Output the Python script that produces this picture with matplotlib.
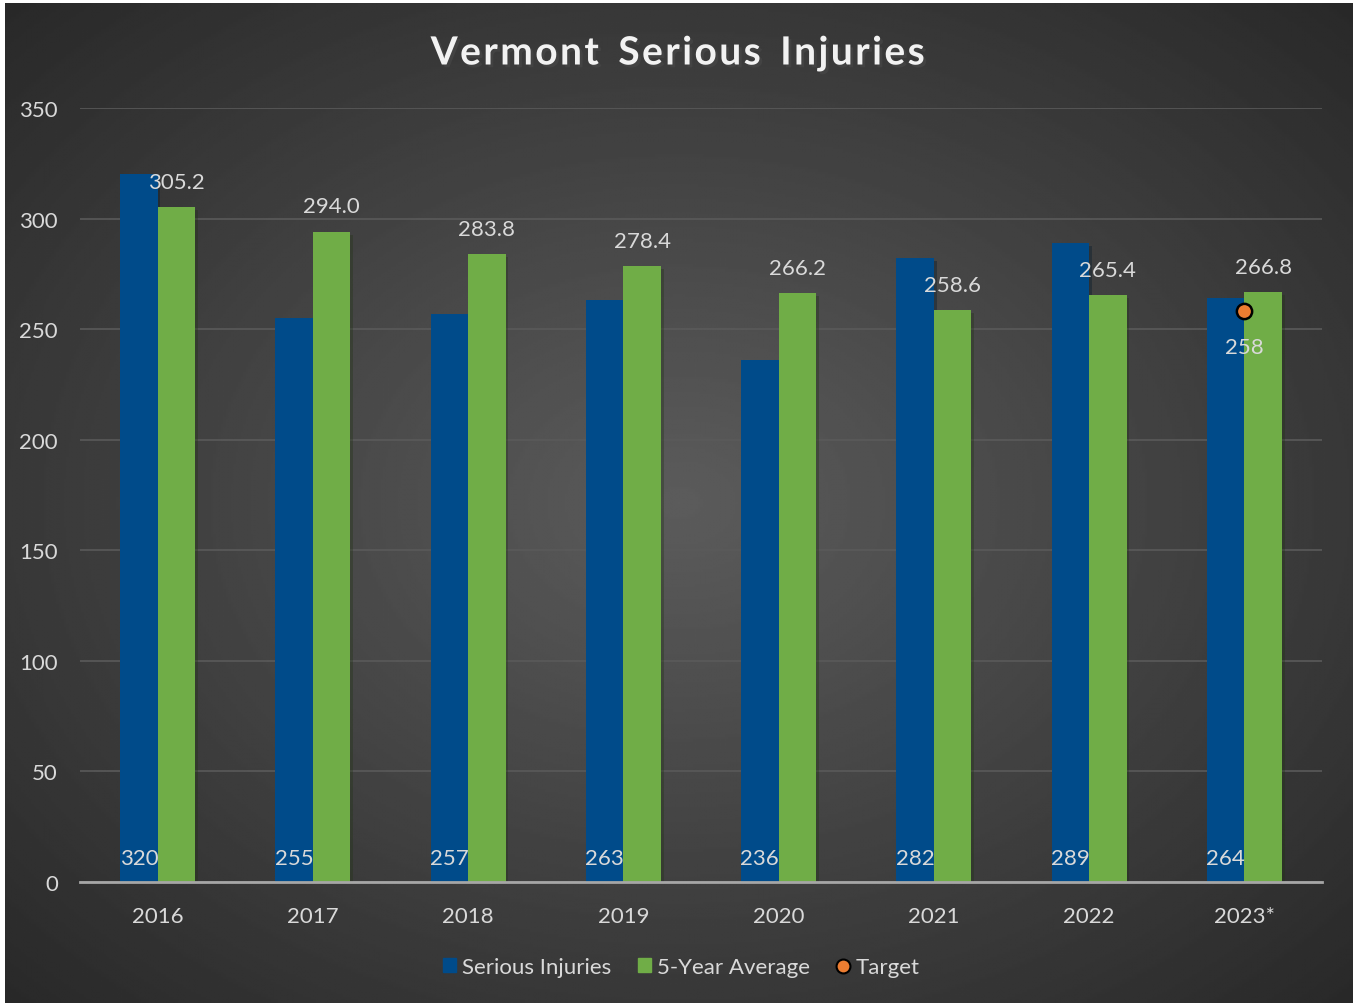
import numpy as np
import matplotlib.pyplot as plt
import matplotlib.patheffects as pe
from matplotlib.lines import Line2D
from matplotlib.patches import Patch

years = ["2016", "2017", "2018", "2019", "2020", "2021", "2022", "2023*"]
serious_injuries = [320, 255, 257, 263, 236, 282, 289, 264]
five_year_avg = [305.2, 294.0, 283.8, 278.4, 266.2, 258.6, 265.4, 266.8]
target_year = "2023*"
target_value = 258

W, H = 1361, 1004
blue = "#004b8a"
green = "#70ad47"
orange = "#ed7d31"
txt = "#d9d9d9"
fs = 16

plt.rcParams['font.family'] = ['Lato', 'DejaVu Sans']

fig = plt.figure(figsize=(W / 100, H / 100), dpi=100, facecolor="white")

# dark radial gradient background of the chart area
bg = fig.add_axes([5 / W, 0, (1352 - 5) / W, (H - 4) / H])
yy, xx = np.mgrid[-1:1:400j, -1:1:540j]
r = np.sqrt(xx ** 2 + yy ** 2) / np.sqrt(2)
bg.imshow(0.36 - 0.2 * r, cmap="gray", vmin=0, vmax=1, aspect="auto",
          extent=[0, 1, 0, 1], interpolation="bilinear")
bg.set_axis_off()

ax = fig.add_axes([80 / W, 1 - 883 / H, (1322 - 80) / W, (883 - 109) / H])
ax.patch.set_alpha(0)

x = np.arange(len(years))
bw = 0.242
shadow = [pe.SimplePatchShadow(offset=(2, -2), alpha=0.35), pe.Normal()]
ax.bar(x - bw / 2, serious_injuries, bw, color=blue, zorder=3, path_effects=shadow)
ax.bar(x + bw / 2, five_year_avg, bw, color=green, zorder=3, path_effects=shadow)

for xi, v in zip(x, serious_injuries):
    ax.text(xi - bw / 2, 11, f"{v}", color=txt, fontsize=fs, ha="center", va="center", zorder=5)
for xi, v in zip(x, five_year_avg):
    ax.text(xi + bw / 2, v + 11.5, f"{v:.1f}", color=txt, fontsize=fs, ha="center", va="center", zorder=5)

ti = years.index(target_year)
ax.plot([ti], [target_value], "o", ms=11, mfc=orange, mec="black", mew=1.8, zorder=6)
ax.text(ti, target_value - 16, f"{target_value}", color=txt, fontsize=fs, ha="center",
        va="center", zorder=6)

ax.set_xlim(-0.5, len(years) - 0.5)
ax.set_ylim(0, 350)
ax.set_yticks(range(0, 351, 50))
ax.yaxis.grid(True, color="#5a5a5a", lw=1.2, zorder=0)
ax.set_xticks(x)
ax.set_xticklabels(years)
ax.tick_params(length=0, labelsize=fs, labelcolor=txt)
ax.tick_params(axis="x", pad=17)
ax.tick_params(axis="y", pad=16)
for s in ["top", "right", "left"]:
    ax.spines[s].set_visible(False)
ax.spines["bottom"].set_color("#a6a6a6")
ax.spines["bottom"].set_linewidth(2)
ax.spines["bottom"].set_zorder(4)

title = " ".join("Vermont Serious Injuries").replace("   ", "\u2002").replace(" ", "\u200a")
fig.text(677 / W, 1 - 54 / H, title,
         color="#f2f2f2", fontsize=28, fontweight="bold", ha="center", va="center",
         path_effects=[pe.withSimplePatchShadow(offset=(2, -2), alpha=0.6)])

handles = [Patch(color=blue, label="Serious Injuries"),
           Patch(color=green, label="5-Year Average"),
           Line2D([], [], marker="o", ls="", ms=10, mfc=orange, mec="black", mew=1.5, label="Target")]
fig.legend(handles=handles, loc="center", bbox_to_anchor=(681 / W, 1 - 968 / H), ncol=3,
           frameon=False, fontsize=fs, labelcolor=txt, handlelength=0.6, handleheight=0.6,
           handletextpad=0.25, columnspacing=1.2)

fig.savefig("out.png", dpi=100, facecolor="white")
